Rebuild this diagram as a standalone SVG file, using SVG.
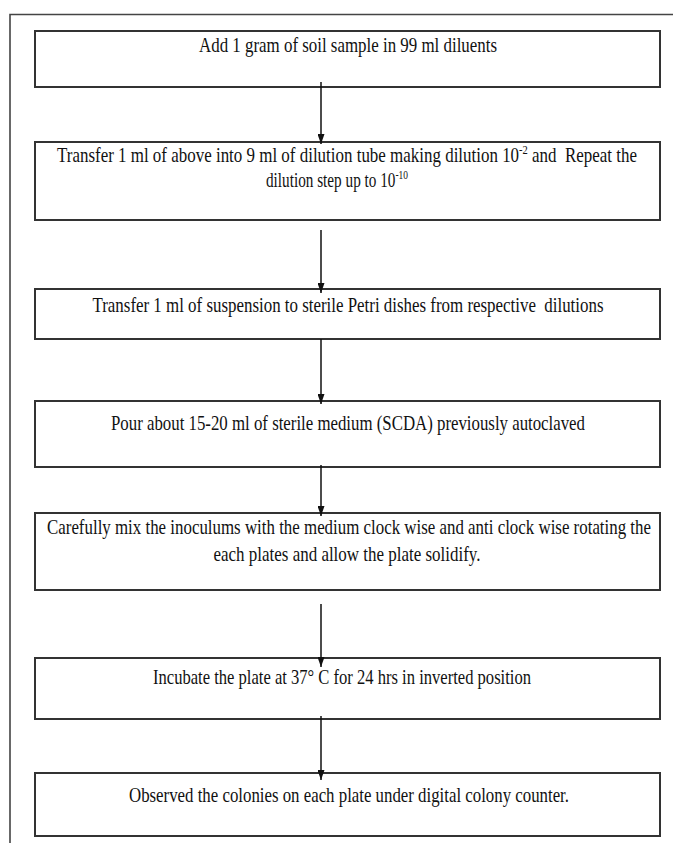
<svg xmlns="http://www.w3.org/2000/svg" width="673" height="843" viewBox="0 0 673 843">
<style>
.frame{fill:none;stroke:#444;stroke-width:1.6}
.box rect{fill:#fff;stroke:#333;stroke-width:2}
.box text{font-family:"Liberation Serif","Times New Roman",serif;font-size:21px;fill:#111;text-anchor:middle}
.sup{font-size:13px}
.conn line{stroke:#111;stroke-width:1.5}
</style>
<defs>
<marker id="ah" markerUnits="userSpaceOnUse" viewBox="0 0 10 7" refX="10" refY="3.5" markerWidth="10" markerHeight="7" orient="auto">
<path d="M0,0 L10,3.5 L0,7 z" fill="#111"/>
</marker>
</defs>
<rect width="673" height="843" fill="#fff"/>
<path class="frame" d="M673,14.5 H10 V843"/>
<g id="n1" class="box">
<rect x="35" y="31" width="625" height="56"/>
<text x="348" y="52" textLength="298" lengthAdjust="spacingAndGlyphs">Add 1 gram of soil sample in 99 ml diluents</text>
</g>
<g id="n2" class="box">
<rect x="35" y="142" width="625" height="78"/>
<text x="347" y="162" textLength="580" lengthAdjust="spacingAndGlyphs" xml:space="preserve">Transfer 1 ml of above into 9 ml of dilution tube making dilution 10<tspan class="sup" dy="-8">-2</tspan><tspan dy="8"> and  Repeat the</tspan></text>
<text x="337" y="187" textLength="142" lengthAdjust="spacingAndGlyphs">dilution step up to 10<tspan class="sup" dy="-8">-10</tspan></text>
</g>
<g id="n3" class="box">
<rect x="35" y="289" width="625" height="50"/>
<text x="348" y="312" textLength="511" lengthAdjust="spacingAndGlyphs" xml:space="preserve">Transfer 1 ml of suspension to sterile Petri dishes from respective  dilutions</text>
</g>
<g id="n4" class="box">
<rect x="35" y="401" width="625" height="66"/>
<text x="348" y="430" textLength="474" lengthAdjust="spacingAndGlyphs">Pour about 15-20 ml of sterile medium (SCDA) previously autoclaved</text>
</g>
<g id="n5" class="box">
<rect x="35" y="513" width="625" height="77"/>
<text x="349" y="534" textLength="604" lengthAdjust="spacingAndGlyphs">Carefully mix the inoculums with the medium clock wise and anti clock wise rotating the</text>
<text x="347" y="561" textLength="267" lengthAdjust="spacingAndGlyphs">each plates and allow the plate solidify.</text>
</g>
<g id="n6" class="box">
<rect x="35" y="658" width="625" height="61"/>
<text x="342" y="684" textLength="378" lengthAdjust="spacingAndGlyphs">Incubate the plate at 37° C for 24 hrs in inverted position</text>
</g>
<g id="n7" class="box">
<rect x="35" y="773" width="625" height="63"/>
<text x="349" y="802" textLength="440" lengthAdjust="spacingAndGlyphs">Observed the colonies on each plate under digital colony counter.</text>
</g>
<g id="connectors" class="conn">
<line x1="321" y1="82" x2="321" y2="144" marker-end="url(#ah)"/>
<line x1="321" y1="230" x2="321" y2="293" marker-end="url(#ah)"/>
<line x1="321" y1="339" x2="321" y2="404" marker-end="url(#ah)"/>
<line x1="321" y1="465" x2="321" y2="516" marker-end="url(#ah)"/>
<line x1="321" y1="604" x2="321" y2="667" marker-end="url(#ah)"/>
<line x1="321" y1="716" x2="321" y2="780" marker-end="url(#ah)"/>
</g>
</svg>
